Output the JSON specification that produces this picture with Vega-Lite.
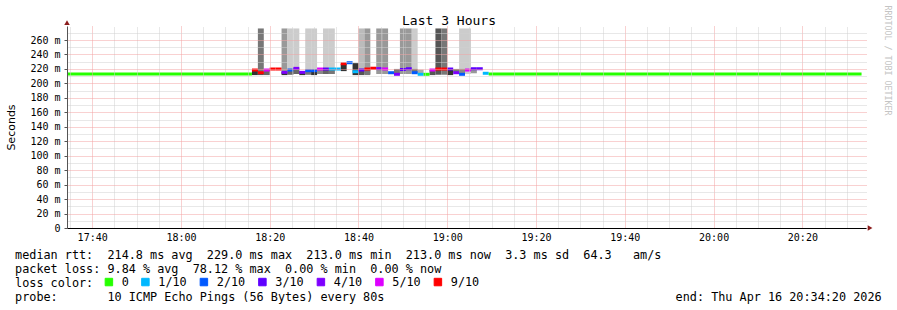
{
  "$schema": "https://vega.github.io/schema/vega-lite/v6.json",
  "width": 799,
  "height": 202,
  "autosize": {"type": "none"},
  "padding": {"left": 67, "top": 26, "right": 31, "bottom": 82},
  "background": "white",
  "config": {"view": {"stroke": null}},
  "datasets": {
    "smoke": [
      {"t": "2026-04-16T18:17:20", "t2": "2026-04-16T18:18:40", "lo": 212, "hi": 276, "shade": 4},
      {"t": "2026-04-16T18:22:40", "t2": "2026-04-16T18:24:00", "lo": 213, "hi": 276, "shade": 6},
      {"t": "2026-04-16T18:24:00", "t2": "2026-04-16T18:25:20", "lo": 212, "hi": 276, "shade": 9},
      {"t": "2026-04-16T18:25:20", "t2": "2026-04-16T18:26:40", "lo": 213, "hi": 276, "shade": 9},
      {"t": "2026-04-16T18:28:00", "t2": "2026-04-16T18:29:20", "lo": 212, "hi": 276, "shade": 9},
      {"t": "2026-04-16T18:29:20", "t2": "2026-04-16T18:30:40", "lo": 212, "hi": 276, "shade": 9},
      {"t": "2026-04-16T18:32:00", "t2": "2026-04-16T18:33:20", "lo": 213, "hi": 276, "shade": 9},
      {"t": "2026-04-16T18:33:20", "t2": "2026-04-16T18:34:40", "lo": 213, "hi": 276, "shade": 9},
      {"t": "2026-04-16T18:40:00", "t2": "2026-04-16T18:41:20", "lo": 213, "hi": 276, "shade": 8},
      {"t": "2026-04-16T18:41:20", "t2": "2026-04-16T18:42:40", "lo": 213, "hi": 276, "shade": 6},
      {"t": "2026-04-16T18:44:00", "t2": "2026-04-16T18:45:20", "lo": 213, "hi": 276, "shade": 6},
      {"t": "2026-04-16T18:45:20", "t2": "2026-04-16T18:46:40", "lo": 213, "hi": 276, "shade": 6},
      {"t": "2026-04-16T18:49:20", "t2": "2026-04-16T18:50:40", "lo": 213, "hi": 276, "shade": 6},
      {"t": "2026-04-16T18:50:40", "t2": "2026-04-16T18:52:00", "lo": 213, "hi": 276, "shade": 6},
      {"t": "2026-04-16T18:52:00", "t2": "2026-04-16T18:53:20", "lo": 213, "hi": 276, "shade": 9},
      {"t": "2026-04-16T18:57:20", "t2": "2026-04-16T18:58:40", "lo": 212, "hi": 276, "shade": 2},
      {"t": "2026-04-16T18:58:40", "t2": "2026-04-16T19:00:00", "lo": 212, "hi": 276, "shade": 4},
      {"t": "2026-04-16T19:02:40", "t2": "2026-04-16T19:04:00", "lo": 213, "hi": 276, "shade": 9},
      {"t": "2026-04-16T19:04:00", "t2": "2026-04-16T19:05:20", "lo": 213, "hi": 276, "shade": 9},
      {"t": "2026-04-16T18:16:00", "t2": "2026-04-16T18:17:20", "lo": 211.5, "hi": 218.5, "shade": 1},
      {"t": "2026-04-16T18:17:20", "t2": "2026-04-16T18:18:40", "lo": 211.5, "hi": 215, "shade": 2},
      {"t": "2026-04-16T18:18:40", "t2": "2026-04-16T18:20:00", "lo": 211.5, "hi": 218.5, "shade": 3},
      {"t": "2026-04-16T18:22:40", "t2": "2026-04-16T18:24:00", "lo": 211.5, "hi": 216, "shade": 1},
      {"t": "2026-04-16T18:24:00", "t2": "2026-04-16T18:25:20", "lo": 212, "hi": 218.5, "shade": 3},
      {"t": "2026-04-16T18:25:20", "t2": "2026-04-16T18:26:40", "lo": 213, "hi": 220.8, "shade": 3},
      {"t": "2026-04-16T18:26:40", "t2": "2026-04-16T18:28:00", "lo": 211.5, "hi": 217, "shade": 1},
      {"t": "2026-04-16T18:28:00", "t2": "2026-04-16T18:29:20", "lo": 212, "hi": 217.6, "shade": 4},
      {"t": "2026-04-16T18:29:20", "t2": "2026-04-16T18:30:40", "lo": 211.5, "hi": 217.6, "shade": 1},
      {"t": "2026-04-16T18:30:40", "t2": "2026-04-16T18:32:00", "lo": 213, "hi": 219.9, "shade": 5},
      {"t": "2026-04-16T18:32:00", "t2": "2026-04-16T18:33:20", "lo": 213, "hi": 219.9, "shade": 3},
      {"t": "2026-04-16T18:33:20", "t2": "2026-04-16T18:34:40", "lo": 213, "hi": 219.9, "shade": 4},
      {"t": "2026-04-16T18:36:00", "t2": "2026-04-16T18:37:20", "lo": 217, "hi": 227.2, "shade": 1},
      {"t": "2026-04-16T18:38:40", "t2": "2026-04-16T18:40:00", "lo": 211.5, "hi": 228, "shade": 1},
      {"t": "2026-04-16T18:40:00", "t2": "2026-04-16T18:41:20", "lo": 211.5, "hi": 220, "shade": 2},
      {"t": "2026-04-16T18:41:20", "t2": "2026-04-16T18:42:40", "lo": 211.5, "hi": 219.9, "shade": 4},
      {"t": "2026-04-16T18:48:00", "t2": "2026-04-16T18:49:20", "lo": 212.6, "hi": 220, "shade": 4},
      {"t": "2026-04-16T18:52:00", "t2": "2026-04-16T18:53:20", "lo": 214.8, "hi": 220, "shade": 4},
      {"t": "2026-04-16T18:53:20", "t2": "2026-04-16T18:54:40", "lo": 212.6, "hi": 219, "shade": 7},
      {"t": "2026-04-16T18:56:00", "t2": "2026-04-16T18:57:20", "lo": 211.5, "hi": 218.5, "shade": 2},
      {"t": "2026-04-16T19:00:00", "t2": "2026-04-16T19:01:20", "lo": 211.5, "hi": 219.9, "shade": 1},
      {"t": "2026-04-16T19:01:20", "t2": "2026-04-16T19:02:40", "lo": 214.8, "hi": 220, "shade": 4},
      {"t": "2026-04-16T19:02:40", "t2": "2026-04-16T19:04:00", "lo": 213, "hi": 220, "shade": 5},
      {"t": "2026-04-16T19:05:20", "t2": "2026-04-16T19:06:40", "lo": 214, "hi": 220, "shade": 6}
    ],
    "median": [
      {"t": "2026-04-16T17:34:20", "t2": "2026-04-16T18:16:00", "rtt": 213.0, "loss": "0"},
      {"t": "2026-04-16T18:16:00", "t2": "2026-04-16T18:17:20", "rtt": 218.5, "loss": "9/10"},
      {"t": "2026-04-16T18:17:20", "t2": "2026-04-16T18:18:40", "rtt": 214.8, "loss": "9/10"},
      {"t": "2026-04-16T18:18:40", "t2": "2026-04-16T18:20:00", "rtt": 218.5, "loss": "5/10"},
      {"t": "2026-04-16T18:20:00", "t2": "2026-04-16T18:21:20", "rtt": 219.9, "loss": "9/10"},
      {"t": "2026-04-16T18:21:20", "t2": "2026-04-16T18:22:40", "rtt": 219.9, "loss": "9/10"},
      {"t": "2026-04-16T18:22:40", "t2": "2026-04-16T18:24:00", "rtt": 215.3, "loss": "4/10"},
      {"t": "2026-04-16T18:24:00", "t2": "2026-04-16T18:25:20", "rtt": 218.5, "loss": "2/10"},
      {"t": "2026-04-16T18:25:20", "t2": "2026-04-16T18:26:40", "rtt": 220.8, "loss": "4/10"},
      {"t": "2026-04-16T18:26:40", "t2": "2026-04-16T18:28:00", "rtt": 215.3, "loss": "4/10"},
      {"t": "2026-04-16T18:28:00", "t2": "2026-04-16T18:29:20", "rtt": 217.6, "loss": "2/10"},
      {"t": "2026-04-16T18:29:20", "t2": "2026-04-16T18:30:40", "rtt": 217.6, "loss": "2/10"},
      {"t": "2026-04-16T18:30:40", "t2": "2026-04-16T18:32:00", "rtt": 219.9, "loss": "5/10"},
      {"t": "2026-04-16T18:32:00", "t2": "2026-04-16T18:33:20", "rtt": 219.9, "loss": "3/10"},
      {"t": "2026-04-16T18:33:20", "t2": "2026-04-16T18:34:40", "rtt": 219.9, "loss": "1/10"},
      {"t": "2026-04-16T18:34:40", "t2": "2026-04-16T18:36:00", "rtt": 219.9, "loss": "1/10"},
      {"t": "2026-04-16T18:36:00", "t2": "2026-04-16T18:37:20", "rtt": 227.2, "loss": "9/10"},
      {"t": "2026-04-16T18:37:20", "t2": "2026-04-16T18:38:40", "rtt": 228.6, "loss": "2/10"},
      {"t": "2026-04-16T18:38:40", "t2": "2026-04-16T18:40:00", "rtt": 216.2, "loss": "1/10"},
      {"t": "2026-04-16T18:40:00", "t2": "2026-04-16T18:41:20", "rtt": 218.5, "loss": "3/10"},
      {"t": "2026-04-16T18:41:20", "t2": "2026-04-16T18:42:40", "rtt": 219.9, "loss": "9/10"},
      {"t": "2026-04-16T18:42:40", "t2": "2026-04-16T18:44:00", "rtt": 221.0, "loss": "9/10"},
      {"t": "2026-04-16T18:44:00", "t2": "2026-04-16T18:45:20", "rtt": 220.5, "loss": "4/10"},
      {"t": "2026-04-16T18:45:20", "t2": "2026-04-16T18:46:40", "rtt": 220.0, "loss": "5/10"},
      {"t": "2026-04-16T18:46:40", "t2": "2026-04-16T18:48:00", "rtt": 214.8, "loss": "2/10"},
      {"t": "2026-04-16T18:48:00", "t2": "2026-04-16T18:49:20", "rtt": 212.6, "loss": "4/10"},
      {"t": "2026-04-16T18:49:20", "t2": "2026-04-16T18:50:40", "rtt": 219.2, "loss": "3/10"},
      {"t": "2026-04-16T18:50:40", "t2": "2026-04-16T18:52:00", "rtt": 220.3, "loss": "3/10"},
      {"t": "2026-04-16T18:52:00", "t2": "2026-04-16T18:53:20", "rtt": 214.8, "loss": "2/10"},
      {"t": "2026-04-16T18:53:20", "t2": "2026-04-16T18:54:40", "rtt": 212.6, "loss": "1/10"},
      {"t": "2026-04-16T18:54:40", "t2": "2026-04-16T18:56:00", "rtt": 212.6, "loss": "0"},
      {"t": "2026-04-16T18:56:00", "t2": "2026-04-16T18:57:20", "rtt": 218.5, "loss": "5/10"},
      {"t": "2026-04-16T18:57:20", "t2": "2026-04-16T18:58:40", "rtt": 219.9, "loss": "9/10"},
      {"t": "2026-04-16T18:58:40", "t2": "2026-04-16T19:00:00", "rtt": 219.9, "loss": "9/10"},
      {"t": "2026-04-16T19:00:00", "t2": "2026-04-16T19:01:20", "rtt": 219.9, "loss": "3/10"},
      {"t": "2026-04-16T19:01:20", "t2": "2026-04-16T19:02:40", "rtt": 214.8, "loss": "4/10"},
      {"t": "2026-04-16T19:02:40", "t2": "2026-04-16T19:04:00", "rtt": 212.6, "loss": "2/10"},
      {"t": "2026-04-16T19:04:00", "t2": "2026-04-16T19:05:20", "rtt": 218.5, "loss": "5/10"},
      {"t": "2026-04-16T19:05:20", "t2": "2026-04-16T19:06:40", "rtt": 220.3, "loss": "3/10"},
      {"t": "2026-04-16T19:06:40", "t2": "2026-04-16T19:08:00", "rtt": 220.3, "loss": "3/10"},
      {"t": "2026-04-16T19:08:00", "t2": "2026-04-16T19:09:20", "rtt": 214.0, "loss": "1/10"},
      {"t": "2026-04-16T19:09:20", "t2": "2026-04-16T20:33:20", "rtt": 213.0, "loss": "0"}
    ],
    "arrows": [
      {"t": "2026-04-16T17:34:20", "v": 284, "dir": "up"},
      {"t": "2026-04-16T20:35:15", "v": 0, "dir": "right"}
    ]
  },
  "layer": [
    {
      "data": {"name": "smoke"},
      "mark": {"type": "rect"},
      "encoding": {
        "x": {
          "field": "t", "type": "temporal",
          "scale": {"domain": [
            {"year": 2026, "month": 4, "date": 16, "hours": 17, "minutes": 34, "seconds": 20},
            {"year": 2026, "month": 4, "date": 16, "hours": 20, "minutes": 34, "seconds": 20}
          ]},
          "axis": {
            "orient": "bottom",
            "values": [
              {"year": 2026, "month": 4, "date": 16, "hours": 17, "minutes": 40},
              {"year": 2026, "month": 4, "date": 16, "hours": 18, "minutes": 0},
              {"year": 2026, "month": 4, "date": 16, "hours": 18, "minutes": 20},
              {"year": 2026, "month": 4, "date": 16, "hours": 18, "minutes": 40},
              {"year": 2026, "month": 4, "date": 16, "hours": 19, "minutes": 0},
              {"year": 2026, "month": 4, "date": 16, "hours": 19, "minutes": 20},
              {"year": 2026, "month": 4, "date": 16, "hours": 19, "minutes": 40},
              {"year": 2026, "month": 4, "date": 16, "hours": 20, "minutes": 0},
              {"year": 2026, "month": 4, "date": 16, "hours": 20, "minutes": 20}
            ],
            "format": "%H:%M",
            "labelFont": "DejaVu Sans Mono", "labelFontSize": 10, "labelColor": "black",
            "labelPadding": 4, "labelFlush": false, "labelOverlap": false,
            "ticks": false,
            "domain": true, "domainColor": "black", "domainWidth": 1,
            "grid": true, "gridColor": "#f2a3a3", "gridDash": [1, 1], "gridWidth": 1,
            "zindex": 1,
            "title": [
              "median rtt:\u00a0\u00a0214.8 ms avg\u00a0\u00a0229.0 ms max\u00a0\u00a0213.0 ms min\u00a0\u00a0213.0 ms now\u00a0\u00a03.3 ms sd\u00a0\u00a064.3\u00a0\u00a0\u00a0am/s",
              "packet loss: 9.84 % avg\u00a0\u00a078.12 % max\u00a0\u00a00.00 % min\u00a0\u00a00.00 % now",
              "loss color:",
              "probe:\u00a0\u00a0\u00a0\u00a0\u00a0\u00a0\u00a010 ICMP Echo Pings (56 Bytes) every 80s\u00a0\u00a0\u00a0\u00a0\u00a0\u00a0\u00a0\u00a0\u00a0\u00a0\u00a0\u00a0\u00a0\u00a0\u00a0\u00a0\u00a0\u00a0\u00a0\u00a0\u00a0\u00a0\u00a0\u00a0\u00a0\u00a0\u00a0\u00a0\u00a0\u00a0\u00a0\u00a0\u00a0\u00a0\u00a0\u00a0\u00a0\u00a0\u00a0\u00a0\u00a0end: Thu Apr 16 20:34:20 2026"
            ],
            "titleFont": "DejaVu Sans Mono", "titleFontSize": 11.8, "titleFontWeight": "normal",
            "titleColor": "black", "titleX": -52.4, "titleY": 30, "titleAlign": "left",
            "titleAnchor": "start", "titleBaseline": "alphabetic", "titleLineHeight": 14
          }
        },
        "x2": {"field": "t2"},
        "y": {
          "field": "lo", "type": "quantitative",
          "scale": {"domain": [0, 279.4], "nice": false, "zero": false},
          "axis": {
            "orient": "left",
            "values": [0, 20, 40, 60, 80, 100, 120, 140, 160, 180, 200, 220, 240, 260],
            "labelExpr": "datum.value == 0 ? '0\u00a0\u00a0' : datum.value + '\u00a0m'",
            "labelFont": "DejaVu Sans Mono", "labelFontSize": 10, "labelColor": "black",
            "labelPadding": 4,
            "ticks": true, "tickSize": 3, "tickColor": "#555555",
            "domain": true, "domainColor": "#555555", "domainWidth": 1,
            "grid": true, "gridColor": "#f2a3a3", "gridDash": [1, 1], "gridWidth": 1,
            "zindex": 1,
            "title": "Seconds", "titleFont": "DejaVu Sans", "titleFontSize": 11,
            "titleFontWeight": "normal", "titleColor": "black",
            "titleAngle": 270, "titleX": -56, "titleY": 101,
            "titleAlign": "center", "titleBaseline": "middle"
          }
        },
        "y2": {"field": "hi"},
        "color": {
          "field": "shade", "type": "ordinal",
          "scale": {"domain": [1, 2, 3, 4, 5, 6, 7, 8, 9],
                    "range": ["#333333", "#555555", "#666666", "#777777", "#888888", "#999999", "#aaaaaa", "#bbbbbb", "#cccccc"]},
          "legend": null
        }
      }
    },
    {
      "data": {"name": "median"},
      "mark": {"type": "rule", "strokeWidth": 3, "strokeCap": "butt"},
      "encoding": {
        "x": {
          "field": "t", "type": "temporal",
          "axis": {
            "orient": "top",
            "values": [
              {"year": 2026, "month": 4, "date": 16, "hours": 17, "minutes": 35},
              {"year": 2026, "month": 4, "date": 16, "hours": 17, "minutes": 45},
              {"year": 2026, "month": 4, "date": 16, "hours": 17, "minutes": 50},
              {"year": 2026, "month": 4, "date": 16, "hours": 17, "minutes": 55},
              {"year": 2026, "month": 4, "date": 16, "hours": 18, "minutes": 5},
              {"year": 2026, "month": 4, "date": 16, "hours": 18, "minutes": 10},
              {"year": 2026, "month": 4, "date": 16, "hours": 18, "minutes": 15},
              {"year": 2026, "month": 4, "date": 16, "hours": 18, "minutes": 25},
              {"year": 2026, "month": 4, "date": 16, "hours": 18, "minutes": 30},
              {"year": 2026, "month": 4, "date": 16, "hours": 18, "minutes": 35},
              {"year": 2026, "month": 4, "date": 16, "hours": 18, "minutes": 45},
              {"year": 2026, "month": 4, "date": 16, "hours": 18, "minutes": 50},
              {"year": 2026, "month": 4, "date": 16, "hours": 18, "minutes": 55},
              {"year": 2026, "month": 4, "date": 16, "hours": 19, "minutes": 5},
              {"year": 2026, "month": 4, "date": 16, "hours": 19, "minutes": 10},
              {"year": 2026, "month": 4, "date": 16, "hours": 19, "minutes": 15},
              {"year": 2026, "month": 4, "date": 16, "hours": 19, "minutes": 25},
              {"year": 2026, "month": 4, "date": 16, "hours": 19, "minutes": 30},
              {"year": 2026, "month": 4, "date": 16, "hours": 19, "minutes": 35},
              {"year": 2026, "month": 4, "date": 16, "hours": 19, "minutes": 45},
              {"year": 2026, "month": 4, "date": 16, "hours": 19, "minutes": 50},
              {"year": 2026, "month": 4, "date": 16, "hours": 19, "minutes": 55},
              {"year": 2026, "month": 4, "date": 16, "hours": 20, "minutes": 5},
              {"year": 2026, "month": 4, "date": 16, "hours": 20, "minutes": 10},
              {"year": 2026, "month": 4, "date": 16, "hours": 20, "minutes": 15},
              {"year": 2026, "month": 4, "date": 16, "hours": 20, "minutes": 25},
              {"year": 2026, "month": 4, "date": 16, "hours": 20, "minutes": 30}
            ],
            "labels": false, "ticks": false, "domain": false,
            "grid": true, "gridColor": "#d0d0d0", "gridDash": [1, 1], "gridWidth": 1,
            "zindex": 1,
            "title": "Last 3 Hours", "titleFont": "DejaVu Sans Mono", "titleFontSize": 13,
            "titleFontWeight": "normal", "titleColor": "black",
            "titleX": 381.5, "titleY": -2, "titleAlign": "center", "titleBaseline": "alphabetic"
          }
        },
        "x2": {"field": "t2"},
        "y": {
          "field": "rtt", "type": "quantitative",
          "axis": {
            "orient": "right",
            "values": [10, 30, 50, 70, 90, 110, 130, 150, 170, 190, 210, 230, 250, 270],
            "labels": false, "ticks": false, "domain": false,
            "grid": true, "gridColor": "#d0d0d0", "gridDash": [1, 1], "gridWidth": 1,
            "zindex": 1,
            "title": "RRDTOOL / TOBI OETIKER", "titleFont": "DejaVu Sans Mono", "titleFontSize": 8.3,
            "titleFontWeight": "normal", "titleColor": "#c4c4c4",
            "titleAngle": 90, "titleX": 20, "titleY": 34,
            "titleAlign": "center", "titleBaseline": "middle"
          }
        },
        "color": {
          "field": "loss", "type": "nominal",
          "scale": {"domain": ["0", "1/10", "2/10", "3/10", "4/10", "5/10", "9/10"],
                    "range": ["#26ff00", "#00b8ff", "#0059ff", "#5e00ff", "#7e00ff", "#dd00ff", "#ff0000"]},
          "legend": {
            "orient": "none", "legendX": 36, "legendY": 250,
            "direction": "horizontal",
            "title": null,
            "labelFont": "DejaVu Sans Mono", "labelFontSize": 11.8, "labelColor": "black",
            "labelOffset": 7, "columnPadding": 10.5, "rowPadding": 0, "padding": 0,
            "symbolType": "square", "symbolSize": 56, "symbolStrokeColor": "black", "symbolStrokeWidth": 1,
            "encode": {
              "symbols": {
                "update": {
                  "fill": {"signal": "datum.value === '0' ? '#26ff00' : datum.value === '1/10' ? '#00b8ff' : datum.value === '2/10' ? '#0059ff' : datum.value === '3/10' ? '#5e00ff' : datum.value === '4/10' ? '#7e00ff' : datum.value === '5/10' ? '#dd00ff' : '#ff0000'"},
                  "stroke": {"value": "black"},
                  "strokeWidth": {"value": 1},
                  "opacity": {"value": 1},
                  "fillOpacity": {"value": 1}
                }
              }
            }
          }
        }
      }
    },
    {
      "data": {"name": "arrows"},
      "mark": {"type": "point", "filled": true, "size": 30, "color": "#8b1c1c", "opacity": 1},
      "encoding": {
        "x": {"field": "t", "type": "temporal", "axis": null},
        "y": {"field": "v", "type": "quantitative", "axis": null},
        "shape": {
          "field": "dir", "type": "nominal",
          "scale": {"domain": ["up", "right"], "range": ["triangle-up", "triangle-right"]},
          "legend": null
        }
      }
    }
  ],
  "resolve": {
    "scale": {"color": "independent"},
    "axis": {"x": "independent", "y": "independent"}
  }
}
